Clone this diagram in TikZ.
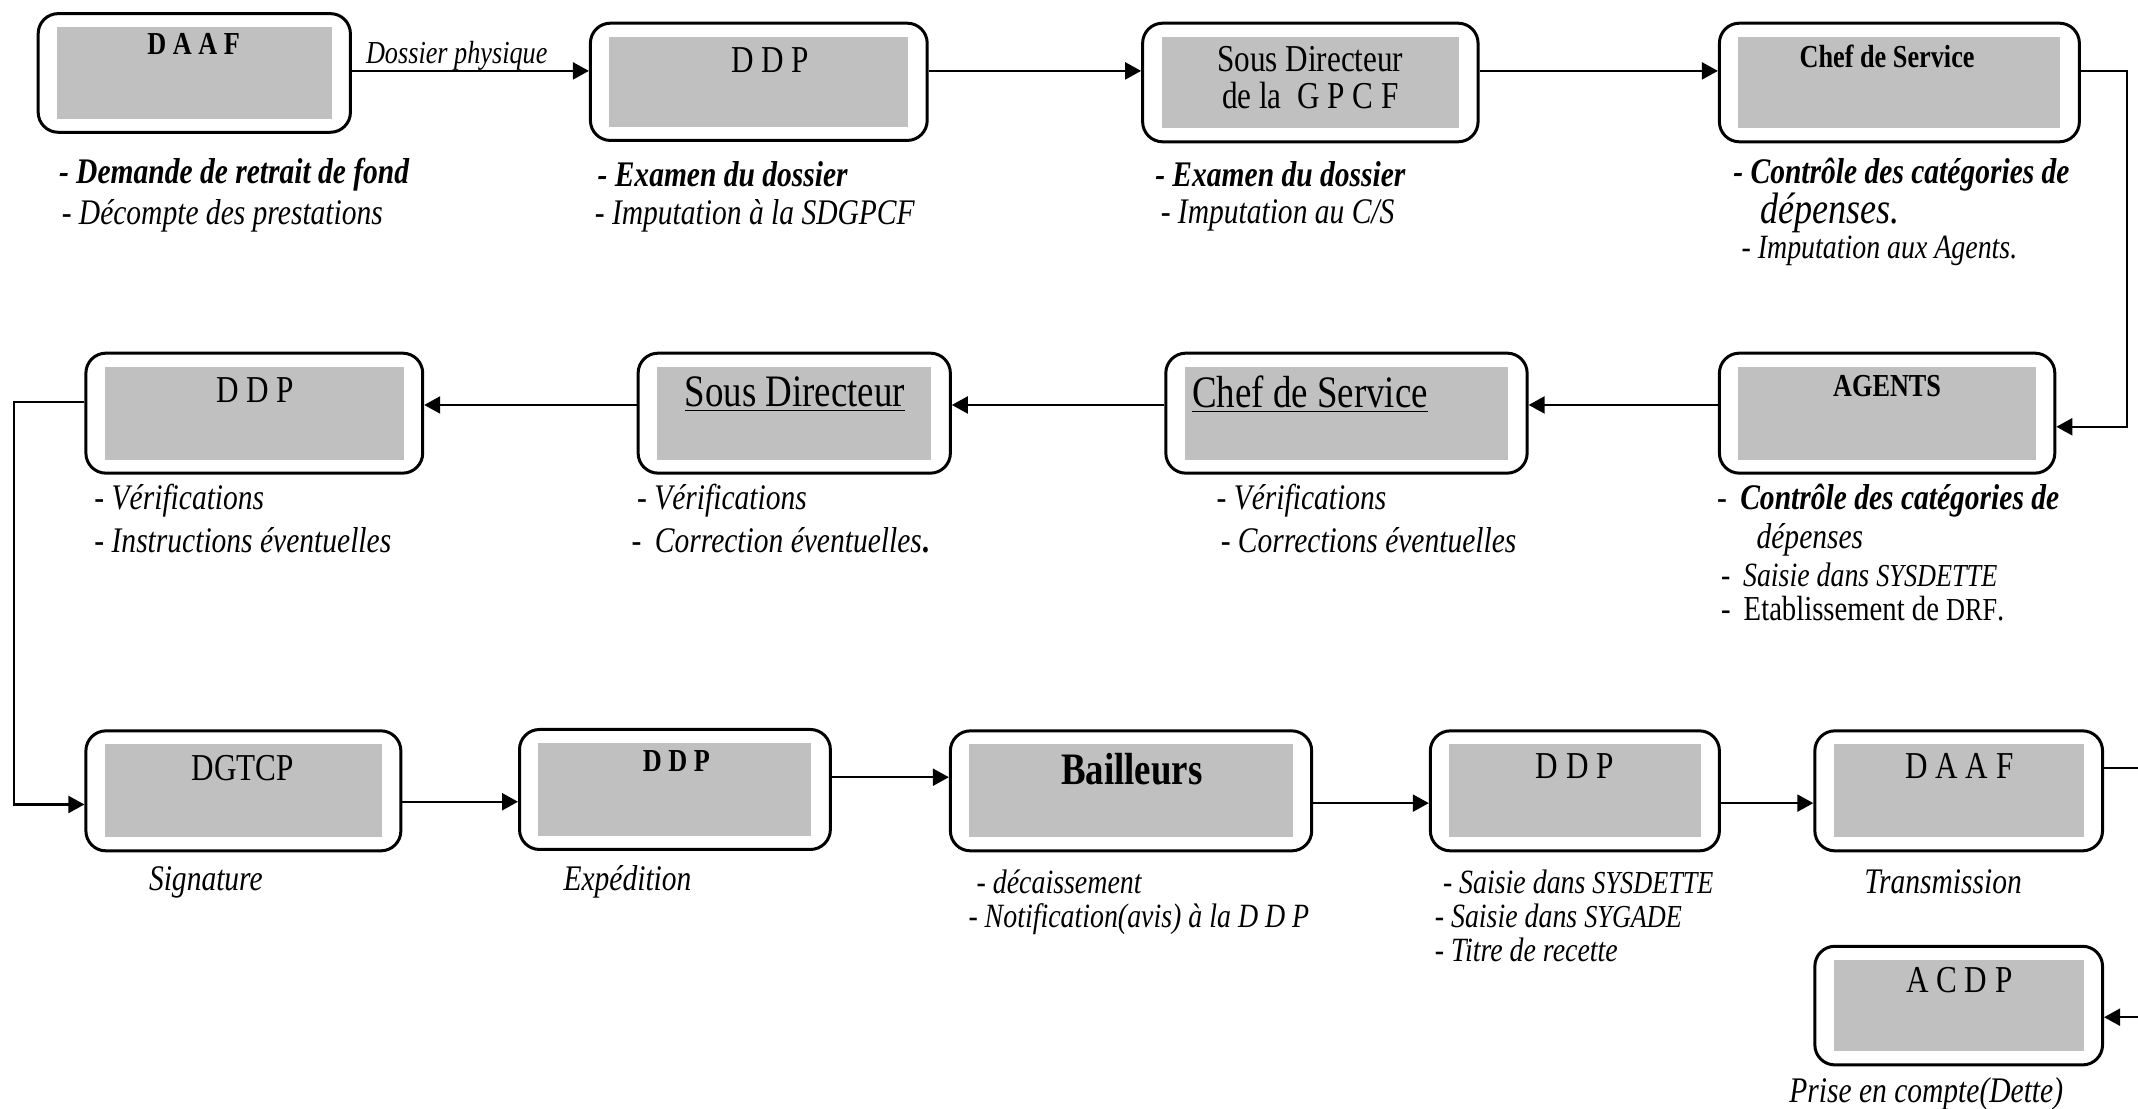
\documentclass[tikz,border=0pt]{standalone}
\usepackage{fontspec}
\setmainfont{Liberation Serif}[FakeStretch=0.82]
\usetikzlibrary{arrows.meta}
\definecolor{boxgray}{HTML}{C0C0C0}
\newcommand\pbox[5]{%
  \node[outerbox, minimum width={(#4-#2)*0.68175pt}, minimum height={(#5-#3)*0.68175pt}] (#1) at ({(#2+#4)/2},{(#3+#5)/2}) {};
  \fill[boxgray] ([xshift=10.2pt,yshift=-7.5pt]#1.north west) rectangle ([xshift=-10.2pt,yshift=7.5pt]#1.south east);}
\begin{document}
\begin{tikzpicture}[x=0.68175pt, y=-0.68175pt,
  outerbox/.style={draw, line width=1.5pt, rounded corners=10pt, fill=white, inner sep=0pt},
  conn/.style={line width=1.1pt},
  arr/.style={conn, -{Triangle[length=8pt,width=8.5pt]}},
  txt/.style={inner sep=0pt, anchor=west, font=\fontsize{18}{20}\selectfont\itshape},
  stxt/.style={txt, font=\fontsize{17}{19}\selectfont\itshape, text height=0.68em, text depth=0.12em, yshift=-2.6pt},
  btxt/.style={inner sep=0pt, anchor=west, font=\fontsize{18}{20}\selectfont\bfseries\itshape},
  lab/.style={inner sep=0pt, font=\fontsize{19}{21}\selectfont},
  blab/.style={inner sep=0pt, font=\fontsize{16}{18}\selectfont\bfseries},
]
\useasboundingbox (0,0) rectangle (1568,813);
% row 1
\pbox{a1}{28}{10}{257}{97}
\pbox{a2}{433}{17}{680}{103}
\pbox{a3}{838}{17}{1084}{104}
\pbox{a4}{1261}{17}{1525}{104}
\node[blab] (la1) at (142,32) {D A A F};
\node[lab] (la2) at (565,44) {D D P};
\node[lab, align=center, font=\fontsize{19}{18.5}\selectfont] (la3) at (961,57) {Sous Directeur\\de la~ G P C F};
\node[blab] (la4) at (1384,41) {Chef de Service};
% row 2
\pbox{b1}{63}{259}{310}{347}
\pbox{b2}{468}{259}{697}{347}
\pbox{b3}{855}{259}{1120}{347}
\pbox{b4}{1261}{259}{1507}{347}
\node[lab] (lb1) at (187,286) {D D P};
\node[lab, font=\fontsize{22.5}{24}\selectfont] (lb2) at (583,289) {\underline{Sous Directeur}};
\node[lab, font=\fontsize{22.5}{24}\selectfont, anchor=west] (lb3) at (874,289) {\underline{Chef de Service}};
\node[blab] (lb4) at (1384,283) {AGENTS};
% row 3
\pbox{c1}{63}{536}{294}{624}
\pbox{c2}{381}{535}{609}{623}
\pbox{c3}{697}{536}{962}{624}
\pbox{c4}{1049}{536}{1261}{624}
\pbox{c5}{1331}{536}{1542}{624}
\pbox{c6}{1331}{694}{1542}{781}
\node[lab] (lc1) at (178,563) {DGTCP};
\node[blab] (lc2) at (496,558) {D D P};
\node[lab, font=\fontsize{22.5}{24}\selectfont\bfseries] (lc3) at (830,564) {Bailleurs};
\node[lab] (lc4) at (1155,562) {D D P};
\node[lab] (lc5) at (1437,562) {D A A F};
\node[lab] (lc6) at (1437,719) {A C D P};
% connectors row 1
\draw[arr] (a1.east |- 0,52) -- (a2.west |- 0,52);
\node[inner sep=0pt, font=\fontsize{16}{18}\selectfont\itshape] (dp) at (335,41) {Dossier physique};
\draw[arr] (a2.east |- 0,52) -- (a3.west |- 0,52);
\draw[arr] (a3.east |- 0,52) -- (a4.west |- 0,52);
\coordinate (r1) at (1560,52);
\coordinate (r2) at (1560,313);
\draw[arr] (a4.east |- r1) -- (r1) -- (r2) -- (b4.east |- r2);
% connectors row 2
\draw[arr] (b4.west |- 0,297) -- (b3.east |- 0,297);
\draw[arr] (b3.west |- 0,297) -- (b2.east |- 0,297);
\draw[arr] (b2.west |- 0,297) -- (b1.east |- 0,297);
\coordinate (l1) at (10,295);
\coordinate (l2) at (10,590);
\draw[arr] (b1.west |- l1) -- (l1) -- (l2) -- (c1.west |- l2);
% connectors row 3
\draw[arr] (c1.east |- 0,588) -- (c2.west |- 0,588);
\draw[arr] (c2.east |- 0,570) -- (c3.west |- 0,570);
\draw[arr] (c3.east |- 0,589) -- (c4.west |- 0,589);
\draw[arr] (c4.east |- 0,589) -- (c5.west |- 0,589);
\coordinate (e1) at (1575,563);
\coordinate (e2) at (1575,746);
\draw[arr] (c5.east |- e1) -- (e1) -- (e2) -- (c6.east |- e2);
% texts row 1
\node[btxt] (t11) at (43,128) {- Demande de retrait de fond};
\node[txt] (t12) at (45,158) {- Décompte des prestations};
\node[btxt] (t21) at (438,128) {- Examen du dossier};
\node[txt] (t22) at (436,158) {- Imputation à la SDGPCF};
\node[btxt] (t31) at (847,128) {- Examen du dossier};
\node[txt] (t32) at (851,158) {- Imputation au C/S};
\node[btxt] (t41) at (1271,128) {- Contrôle des catégories de};
\node[txt, font=\fontsize{22}{24}\selectfont\itshape] (t42) at (1291,156) {dépenses.};
\node[txt, font=\fontsize{17}{19}\selectfont\itshape] (t43) at (1277,184) {- Imputation aux Agents.};
% texts row 2
\node[txt] (u11) at (69,367) {- Vérifications};
\node[txt] (u12) at (69,396) {- Instructions éventuelles};
\node[txt] (u21) at (467,367) {- Vérifications};
\node[txt] (u22) at (463,396) {\upshape -\, \itshape Correction éventuelles\upshape\bfseries .};
\node[txt] (u31) at (892,367) {- Vérifications};
\node[txt] (u32) at (895,396) {- Corrections éventuelles};
\node[txt] (u41) at (1259,367) {-\, \bfseries Contrôle des catégories de};
\node[txt] (u42) at (1288,396) {dépenses};
\node[stxt] (u43) at (1262,422) {-\, Saisie dans {\fontsize{16}{18}\selectfont SYSDETTE}};
\node[stxt, font=\fontsize{17.5}{19}\selectfont] (u44) at (1262,447) {-\, Etablissement de {\fontsize{16}{18}\selectfont DRF}.};
% texts row 3
\node[txt] (v1) at (109,647) {Signature};
\node[txt] (v2) at (413,647) {Expédition};
\node[stxt] (v31) at (716,647) {- décaissement};
\node[stxt] (v32) at (710,672) {- Notification(avis) à la D D P};
\node[stxt] (v41) at (1058,647) {- Saisie dans {\fontsize{16}{18}\selectfont SYSDETTE}};
\node[stxt] (v42) at (1052,672) {- Saisie dans {\fontsize{16}{18}\selectfont SYGADE}};
\node[stxt] (v43) at (1052,697) {- Titre de recette};
\node[txt] (v5) at (1367,647) {Transmission};
\node[txt] (v6) at (1312,802) {Prise en compte(Dette)};
\end{tikzpicture}
\end{document}
